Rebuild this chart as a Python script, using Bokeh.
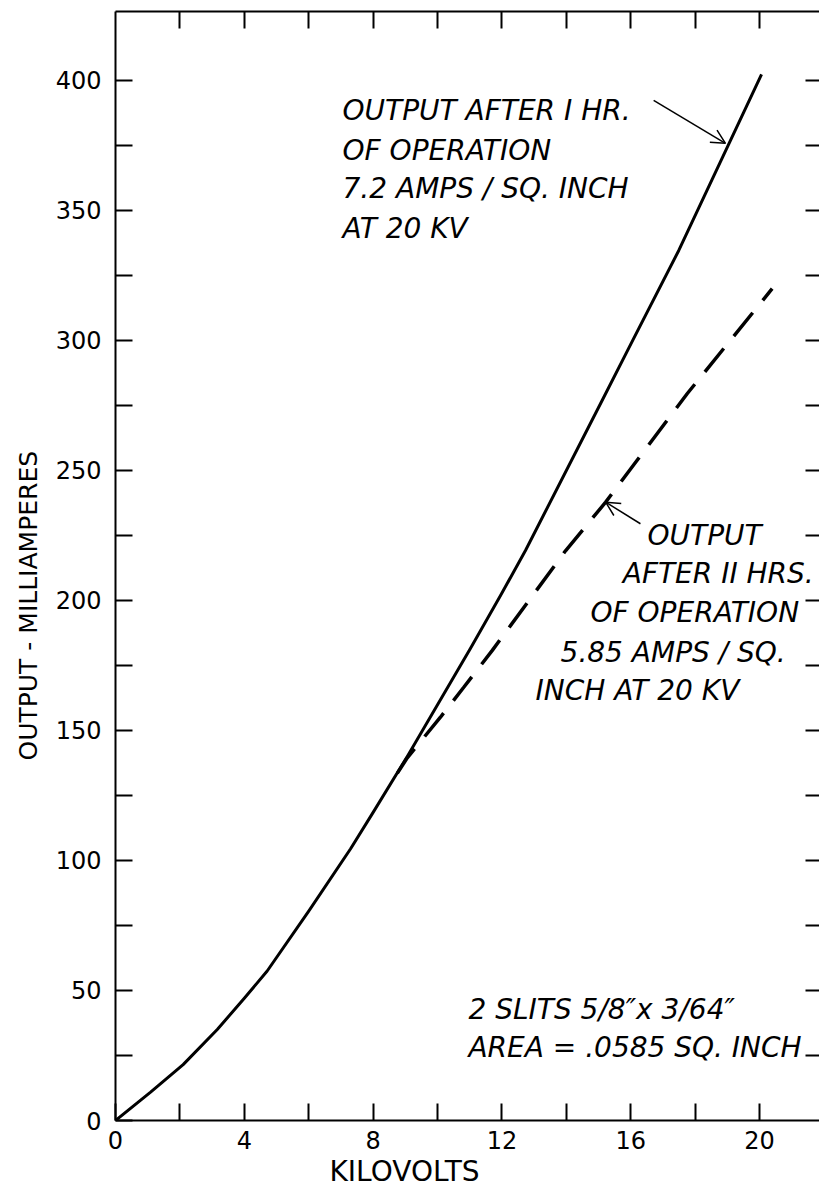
import math
from bokeh.plotting import figure
from bokeh.models import Range1d, LinearAxis, FixedTicker, Arrow, OpenHead, Title
from bokeh.core.properties import value
from bokeh.embed import file_html
from bokeh.resources import INLINE

# ---- data ----
kv_1hr = [0.0, 1.09, 2.1, 3.16, 4.0, 4.71, 6.0, 7.3, 8.0, 9.06,
          11.02, 11.96, 12.73, 15.11, 16.06, 17.49, 20.06]
ma_1hr = [0.0, 10.9, 21.5, 35.0, 47.0, 57.5, 80.5, 104.5, 118.5, 140.0,
          181.5, 202.0, 219.2, 276.9, 300.0, 334.6, 402.3]

kv_11hr = [8.75, 9.06, 10.09, 10.82, 11.70, 13.98, 15.22, 17.75, 20.39]
ma_11hr = [133.5, 139.5, 155.1, 166.7, 180.8, 219.2, 237.8, 279.5, 319.9]

x_major = [0, 4, 8, 12, 16, 20]
x_minor = [2, 6, 10, 14, 18]
x_all = [2, 4, 6, 8, 10, 12, 14, 16, 18, 20]
y_major = [0, 50, 100, 150, 200, 250, 300, 350, 400]
y_minor = [25, 75, 125, 175, 225, 275, 325, 375]
y_all = [25, 50, 75, 100, 125, 150, 175, 200, 225, 250, 275, 300, 325, 350, 375, 400]

x_title = "KILOVOLTS"
y_title = "OUTPUT - MILLIAMPERES"

note1 = ["OUTPUT AFTER I HR.", "OF OPERATION", "7.2 AMPS / SQ. INCH", "AT 20 KV"]
note1_x = [7.05, 7.05, 7.05, 7.05]
note1_y = [388.5, 373.1, 358.5, 343.1]

note2 = ["OUTPUT", "AFTER II HRS.", "OF OPERATION", "5.85 AMPS / SQ.", "INCH AT 20 KV"]
note2_x = [16.52, 15.75, 14.75, 13.82, 13.04]
note2_y = [225.0, 210.4, 195.4, 180.0, 165.4]

note3 = ["2 SLITS 5/8\u2033x 3/64\u2033", "AREA = .0585 SQ. INCH"]
note3_x = [10.96, 10.96]
note3_y = [42.7, 28.1]

arrows = [  # (x_start, y_start, x_end, y_end)
    (16.71, 392.3, 18.94, 375.8),
    (16.30, 229.5, 15.22, 237.8),
]

FONT = "DejaVu Sans"

p = figure(width=819, height=1191,
           x_range=Range1d(0, 21.86), y_range=Range1d(0, 426.5),
           output_backend="svg", toolbar_location=None, title=None,
           min_border_left=115, min_border_right=0,
           min_border_top=11, min_border_bottom=71,
           outline_line_color=None, background_fill_color="white")
p.grid.visible = False


def style_axis(ax, ticks, minors, tick_len=17, line=True):
    ax.ticker = FixedTicker(ticks=ticks, minor_ticks=minors)
    ax.major_tick_in = tick_len
    ax.major_tick_out = 0
    ax.minor_tick_in = tick_len
    ax.minor_tick_out = 0
    ax.major_tick_line_width = 2
    ax.minor_tick_line_width = 2
    ax.major_tick_line_color = "black"
    ax.minor_tick_line_color = "black"
    ax.axis_line_width = 2
    ax.axis_line_color = "black" if line else None
    ax.major_label_text_font = FONT
    ax.major_label_text_font_size = "24px"
    ax.major_label_text_color = "black"


xb = p.xaxis[0]
style_axis(xb, x_major, x_minor)
xb.major_label_standoff = 10

yl = p.yaxis[0]
style_axis(yl, y_major, y_minor)
yl.major_label_standoff = 14
yl.major_label_orientation = "horizontal"

# top and right: tick marks only (no labels)
xt = LinearAxis()
style_axis(xt, [], x_all)
p.add_layout(xt, "above")

yr = LinearAxis()
style_axis(yr, [], y_all, tick_len=14, line=False)
p.add_layout(yr, "right")

# curves
p.line(kv_1hr, ma_1hr, line_color="black", line_width=3, line_join="round")
p.line(kv_11hr, ma_11hr, line_color="black", line_width=3.5, line_dash="30 16")

# arrows
for xs, ys, xe, ye in arrows:
    p.add_layout(Arrow(x_start=xs, y_start=ys, x_end=xe, y_end=ye,
                       line_color="black", line_width=1.5,
                       end=OpenHead(size=14, line_color="black", line_width=1.5)))

# annotations
for texts, xs, ys in [(note1, note1_x, note1_y), (note2, note2_x, note2_y), (note3, note3_x, note3_y)]:
    p.text(x=xs, y=ys, text=texts, text_font=value(FONT), text_font_size="28px",
           text_font_style="italic", text_color="black",
           text_align="left", text_baseline="alphabetic")


def make_title(text, size, offset, standoff):
    kw = dict(text=text, align="left", offset=offset,
              text_font=FONT, text_font_size=size, text_color="black",
              text_font_style="normal")
    try:
        return Title(standoff=standoff, **kw)
    except Exception:
        return Title(**kw)


p.add_layout(make_title(y_title, "25px", 360, 20), "left")
p.add_layout(make_title(x_title, "28px", 214, 2), "below")

open("out.html", "w").write(file_html(p, INLINE))
